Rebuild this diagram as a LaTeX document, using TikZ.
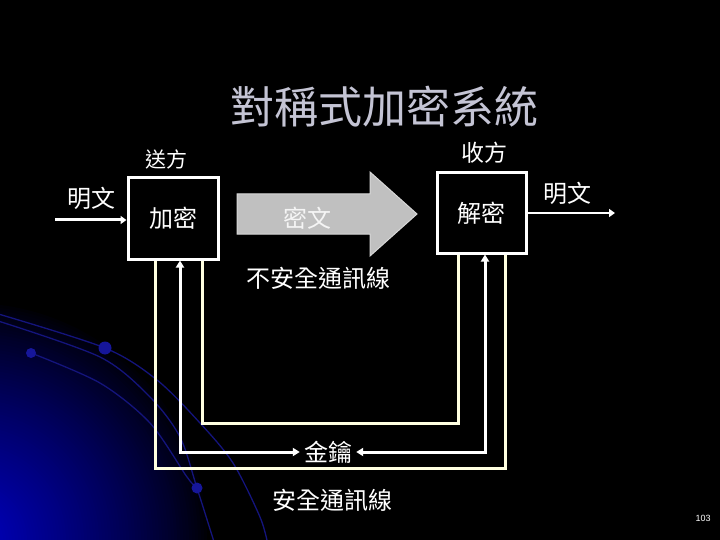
\documentclass[tikz,border=0pt]{standalone}
\usepackage{fontspec}
\setmainfont{Liberation Sans}
\newfontfamily\cjk{Noto Sans CJK TC}
\usetikzlibrary{arrows.meta,calc}
\definecolor{cream}{HTML}{FFFFE0}
\definecolor{titlec}{HTML}{C4C4D4}
\definecolor{gblue}{HTML}{0000C0}
\definecolor{arcblue}{HTML}{14147C}
\definecolor{dotblue}{HTML}{16169A}
\definecolor{arrowgray}{HTML}{C0C0C0}
\definecolor{arrowedge}{HTML}{D8D8D8}
\begin{document}
\begin{tikzpicture}[x=1pt,y=-1pt,
  lbl/.style={text=white, font=\cjk\fontsize{24}{24}\selectfont, inner sep=0pt},
  box/.style={draw=white, line width=3pt, minimum width=90pt, minimum height=81pt, inner sep=0pt, text=white, font=\cjk\fontsize{24}{24}\selectfont},
  creamline/.style={draw=cream, line width=3pt},
  keyline/.style={draw=white, line width=3pt, {Triangle[length=7pt,width=8pt]}-{Triangle[length=7pt,width=8pt]}},
  arcline/.style={draw=arcblue, line width=1.3pt},
  arcdot/.style={fill=dotblue}
]
\useasboundingbox (0,0) rectangle (720,540);
\fill[black] (0,0) rectangle (720,540);
\begin{scope}
  \clip (0,0) rectangle (720,540);
  \foreach \i in {79,...,1} {
    \pgfmathsetmacro\rr{\i*3}
    \pgfmathsetmacro\pp{100*(1-\rr/240)^0.8}
    \fill[gblue!\pp!black] (-30,540) circle (\rr pt);
  }
  \draw[arcline] plot[smooth] coordinates {(-5,313) (105,348) (157,380) (200,423) (233,463) (260,517) (268,545)};
  \draw[arcline] plot[smooth] coordinates {(-5,320) (100,357) (150,397) (180,437) (197,488) (215,545)};
  \draw[arcline] plot[smooth] coordinates {(31,353) (100,383) (150,423) (187,477) (197,488)};
  \fill[arcdot] (105,348) circle (6.5pt);
  \fill[arcdot] (197,488) circle (5.5pt);
  \fill[arcdot] (31,353) circle (5pt);
\end{scope}

% title
\node[text=titlec, font=\cjk\fontsize{44}{44}\selectfont, inner sep=0pt] (title) at (384,107) {對稱式加密系統};

% boxes
\node[box] (enc) at (173,218.5) {加密};
\node[box, minimum width=89pt, minimum height=80pt] (dec) at (481.5,213) {解密};

\node[lbl, font=\cjk\fontsize{21}{21}\selectfont] (send) at (166,159) {送方};
\node[lbl, font=\cjk\fontsize{23}{23}\selectfont] (recv) at (484,153) {收方};
\node[lbl] (ptL) at (91,198) {明文};
\node[lbl] (ptR) at (567,193) {明文};

% big ciphertext arrow
\filldraw[fill=arrowgray, draw=arrowedge, line width=1pt]
  (237,194) -- (370,194) -- (370,172) -- (417,214) -- (370,256) -- (370,234) -- (237,234) -- cycle;
\node[lbl, text=white!92!gray] (ct) at (307,218) {密文};
\node[lbl] (insecure) at (318,278) {不安全通訊線};

% input / output arrows
\coordinate (inL) at (55,220);
\coordinate (outR) at (615,213);
\draw[white, line width=3pt, -{Triangle[length=6pt,width=8pt]}] (inL) -- (inL -| enc.west);
\draw[white, line width=2.5pt, -{Triangle[length=6pt,width=8pt]}] (dec.east |- outR) -- (outR);

% key
\node[lbl, inner sep=4pt] (key) at (328,452) {金鑰};
\coordinate (k1) at (180,452);
\coordinate (k2) at (485,452);
\draw[keyline] (k1 |- enc.south) -- (k1) -- (key.west);
\draw[keyline] (k2 |- dec.south) -- (k2) -- (key.east);

% insecure loop (inner)
\coordinate (i1) at (202,423);
\coordinate (i2) at (458,423);
\draw[creamline] (i1 |- enc.south) -- (i1) -- (i2) -- (i2 |- dec.south);

% secure loop (outer)
\coordinate (o1) at (155,468);
\coordinate (o2) at (505,468);
\draw[creamline] (o1 |- enc.south) -- (o1) -- (o2) -- (o2 |- dec.south);
\node[lbl] (secure) at (332,500) {安全通訊線};

\node[text=white, font=\fontsize{9}{9}\selectfont, inner sep=0pt] (pageno) at (703,518) {103};
\end{tikzpicture}
\end{document}
